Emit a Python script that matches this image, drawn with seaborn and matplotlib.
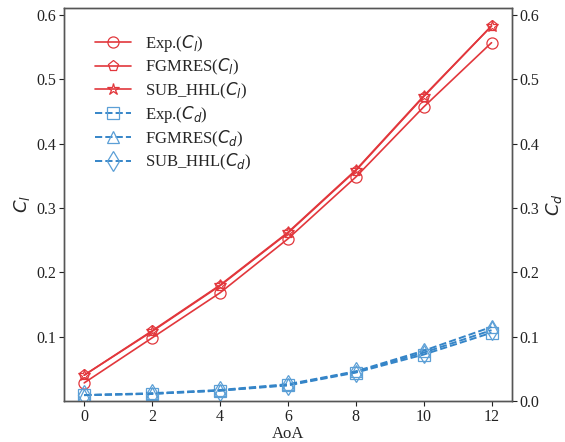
import matplotlib
matplotlib.use("Agg")
import matplotlib.pyplot as plt
import seaborn as sns
import numpy as np

aoa = [0, 2, 4, 6, 8, 10, 12]
cl_exp = [0.028, 0.098, 0.168, 0.252, 0.348, 0.457, 0.557]
cl_fgmres = [0.040, 0.108, 0.179, 0.261, 0.358, 0.473, 0.583]
cl_subhhl = [0.040, 0.109, 0.180, 0.262, 0.359, 0.474, 0.583]
cd_exp = [0.009, 0.011, 0.016, 0.024, 0.044, 0.072, 0.106]
cd_fgmres = [0.009, 0.012, 0.017, 0.026, 0.046, 0.078, 0.115]
cd_subhhl = [0.009, 0.011, 0.016, 0.025, 0.045, 0.075, 0.110]

cl_labels = ["Exp.($C_l$)", "FGMRES($C_l$)", "SUB_HHL($C_l$)"]
cd_labels = ["Exp.($C_d$)", "FGMRES($C_d$)", "SUB_HHL($C_d$)"]

sns.set_style("ticks")
plt.rcParams['font.family'] = ['Liberation Serif', 'DejaVu Serif']
plt.rcParams['mathtext.fontset'] = 'dejavusans'

red = '#e2373c'
blue = '#3585c8'

fig = plt.figure(figsize=(5.65, 4.42), dpi=100)
ax = fig.add_axes([0.113, 0.093, 0.793, 0.889])
ax2 = ax.twinx()

for vals, m, lab in zip([cl_exp, cl_fgmres, cl_subhhl], ['o', 'p', '*'], cl_labels):
    ms = 9 if m == '*' else 8
    sns.lineplot(x=aoa, y=vals, ax=ax, color=red, lw=1.2, marker=m, markersize=ms,
                 markerfacecolor='none', markeredgecolor=red, markeredgewidth=0.9,
                 label=lab, legend=False)

for vals, m, lab in zip([cd_exp, cd_fgmres, cd_subhhl], ['s', '^', 'd'], cd_labels):
    ms = 10 if m == 'd' else 8
    sns.lineplot(x=aoa, y=vals, ax=ax2, color=blue, lw=1.4, linestyle='--', marker=m,
                 markersize=ms, markerfacecolor='none', markeredgecolor='#5b9fd6',
                 markeredgewidth=0.9, label=lab, legend=False)

ax.set_xlim(-0.6, 12.6)
ax.set_ylim(0.0, 0.611)
ax2.set_ylim(0.0, 0.611)
ax.set_xticks(aoa)
ax.set_yticks([0.1, 0.2, 0.3, 0.4, 0.5, 0.6])
ax2.set_yticks([0.0, 0.1, 0.2, 0.3, 0.4, 0.5, 0.6])
ax.set_yticklabels(["0.1", "0.2", "0.3", "0.4", "0.5", "0.6"])
ax2.set_yticklabels(["0.0", "0.1", "0.2", "0.3", "0.4", "0.5", "0.6"])
ax.tick_params(labelsize=11.5, length=3.5, width=0.8, pad=2, colors='#222222')
ax2.tick_params(labelsize=11.5, length=3.5, width=0.8, pad=2, colors='#222222')
ax.set_xlabel("AoA", fontsize=12, labelpad=1)
ax.set_ylabel("$C_l$", fontsize=13, labelpad=3)
ax2.set_ylabel("$C_d$", fontsize=13, labelpad=3)

for a in (ax, ax2):
    for s in a.spines.values():
        s.set_color('#555555')
        s.set_linewidth(1.0)
    a.spines['top'].set_visible(True)
    a.spines['right'].set_visible(True)

h1, l1 = ax.get_legend_handles_labels()
h2, l2 = ax2.get_legend_handles_labels()
ax2.legend(h1 + h2, l1 + l2, loc='upper left', bbox_to_anchor=(0.035, 0.975),
           frameon=False, fontsize=12, handlelength=2.2, handletextpad=0.8,
           labelspacing=0.2)

fig.savefig("out.png", dpi=100)
